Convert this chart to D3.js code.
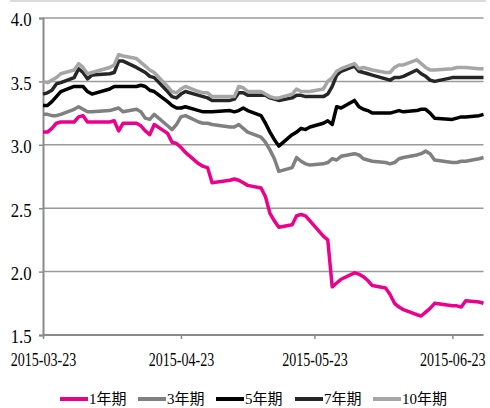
<!DOCTYPE html>
<html>
<head>
<meta charset="utf-8">
<script src="https://cdn.jsdelivr.net/npm/d3@7/dist/d3.min.js"></script>
<style>
  html, body { margin: 0; padding: 0; background: #fff; }
  svg { display: block; }
</style>
</head>
<body>
<svg id="chart" width="490" height="408"></svg>
<script>
// Trading days covered by the yield curves
const dates = [
  "2015-03-23","2015-03-24","2015-03-25","2015-03-26","2015-03-27",
  "2015-03-30","2015-03-31","2015-04-01","2015-04-02","2015-04-03",
  "2015-04-07","2015-04-08","2015-04-09","2015-04-10",
  "2015-04-13","2015-04-14","2015-04-15","2015-04-16","2015-04-17",
  "2015-04-20","2015-04-21","2015-04-22","2015-04-23","2015-04-24",
  "2015-04-27","2015-04-28","2015-04-29","2015-04-30",
  "2015-05-04","2015-05-05","2015-05-06","2015-05-07","2015-05-08",
  "2015-05-11","2015-05-12","2015-05-13","2015-05-14","2015-05-15",
  "2015-05-18","2015-05-19","2015-05-20","2015-05-21","2015-05-22",
  "2015-05-25","2015-05-26","2015-05-27","2015-05-28","2015-05-29",
  "2015-06-01","2015-06-02","2015-06-03","2015-06-04","2015-06-05",
  "2015-06-08","2015-06-09","2015-06-10","2015-06-11","2015-06-12",
  "2015-06-15","2015-06-16","2015-06-17","2015-06-18","2015-06-19",
  "2015-06-23","2015-06-24","2015-06-25","2015-06-26",
  "2015-06-29","2015-06-30"
];

// Yields (%) by tenor
const y1 = [
  3.10,3.10,3.13,3.17,3.18, 3.18,3.22,3.23,3.18,3.18, 3.18,3.19,3.11,3.17,
  3.17,3.15,3.11,3.08,3.16, 3.09,3.02,3.01,2.98,2.94, 2.85,2.83,2.82,2.70,
  2.72,2.73,2.72,2.70,2.68, 2.66,2.59,2.46,2.40,2.35, 2.37,2.44,2.45,2.44,2.40,
  2.28,2.25,1.88,1.91,1.94, 1.99,1.98,1.96,1.93,1.89, 1.87,1.82,1.75,1.72,1.70,
  1.66,1.65,1.68,1.71,1.75, 1.73,1.73,1.72,1.77, 1.76,1.75
];
const y3 = [
  3.24,3.24,3.23,3.23,3.24, 3.28,3.30,3.28,3.26,3.26, 3.27,3.28,3.29,3.26,
  3.28,3.26,3.21,3.20,3.24, 3.15,3.12,3.16,3.22,3.23, 3.18,3.17,3.17,3.16,
  3.14,3.14,3.16,3.13,3.10, 3.06,3.02,2.96,2.89,2.79, 2.82,2.90,2.87,2.85,2.84,
  2.85,2.86,2.89,2.88,2.91, 2.93,2.92,2.89,2.88,2.87, 2.86,2.85,2.86,2.89,2.90,
  2.92,2.93,2.95,2.93,2.88, 2.86,2.86,2.87,2.87, 2.89,2.90
];
const y5 = [
  3.31,3.31,3.34,3.38,3.42, 3.46,3.46,3.46,3.42,3.40, 3.44,3.46,3.46,3.46,
  3.46,3.47,3.46,3.43,3.42, 3.34,3.31,3.29,3.29,3.30, 3.27,3.26,3.26,3.26,
  3.27,3.26,3.27,3.29,3.27, 3.23,3.17,3.10,3.04,2.99, 3.08,3.10,3.13,3.12,3.14,
  3.17,3.19,3.16,3.30,3.29, 3.35,3.30,3.28,3.27,3.25, 3.25,3.25,3.26,3.27,3.26,
  3.27,3.28,3.28,3.25,3.21, 3.20,3.21,3.22,3.22, 3.23,3.24
];
const y7 = [
  3.40,3.41,3.43,3.48,3.49, 3.53,3.60,3.57,3.52,3.55, 3.56,3.57,3.66,3.66,
  3.61,3.59,3.57,3.54,3.53, 3.42,3.38,3.37,3.40,3.42, 3.39,3.38,3.37,3.35,
  3.35,3.36,3.41,3.41,3.39, 3.39,3.39,3.37,3.36,3.35, 3.37,3.39,3.39,3.38,3.38,
  3.38,3.40,3.46,3.55,3.58, 3.62,3.58,3.57,3.56,3.55, 3.52,3.51,3.53,3.53,3.54,
  3.59,3.56,3.54,3.51,3.50, 3.53,3.53,3.53,3.53, 3.53,3.53
];
const y10 = [
  3.50,3.49,3.51,3.53,3.56, 3.59,3.64,3.61,3.56,3.57, 3.61,3.63,3.71,3.70,
  3.68,3.65,3.62,3.59,3.57, 3.46,3.42,3.41,3.44,3.46, 3.42,3.41,3.41,3.38,
  3.38,3.38,3.46,3.45,3.42, 3.42,3.40,3.38,3.37,3.37, 3.40,3.44,3.42,3.42,3.42,
  3.44,3.50,3.53,3.58,3.60, 3.64,3.60,3.61,3.60,3.59, 3.57,3.57,3.61,3.63,3.63,
  3.67,3.64,3.61,3.59,3.59, 3.60,3.61,3.61,3.61, 3.60,3.60
];

const seriesNames = ["1年期", "3年期", "5年期", "7年期", "10年期"];
const seriesValues = [y1, y3, y5, y7, y10];
const seriesColors = ["#ec008c", "#808080", "#000000", "#262626", "#a6a6a6"];

const yTicks = [1.5, 2.0, 2.5, 3.0, 3.5, 4.0];
const xTickLabels = ["2015-03-23", "2015-04-23", "2015-05-23", "2015-06-23"];
const xDomain = ["2015-03-23", "2015-06-30"];

const parse = d3.timeParse("%Y-%m-%d");
const svg = d3.select("#chart");

const plot = { left: 43, right: 483.5, top: 18, bottom: 335 };

const x = d3.scaleTime()
  .domain(xDomain.map(parse))
  .range([plot.left, plot.right]);
const y = d3.scaleLinear()
  .domain([1.5, 4.0])
  .range([plot.bottom, plot.top]);

// thin rule along the top edge
svg.append("line")
  .attr("x1", 10).attr("x2", 486).attr("y1", 1).attr("y2", 1)
  .attr("stroke", "#d0d0d0").attr("stroke-width", 1.5);

// horizontal gridlines
svg.append("g")
  .selectAll("line")
  .data(yTicks.filter(t => t > 1.5))
  .join("line")
  .attr("x1", plot.left).attr("x2", plot.right)
  .attr("y1", d => y(d)).attr("y2", d => y(d))
  .attr("stroke", "#9a9a9a").attr("stroke-width", 1.5);

const serif = "'Liberation Serif', 'Times New Roman', serif";

// y axis
const yAxis = svg.append("g")
  .attr("transform", `translate(${plot.left},0)`)
  .call(d3.axisLeft(y).tickValues(yTicks).tickFormat(d3.format(".1f")).tickSize(4).tickPadding(9));
yAxis.select(".domain").attr("stroke", "#8a8a8a").attr("stroke-width", 2);
yAxis.selectAll(".tick line").attr("stroke", "#8a8a8a").attr("stroke-width", 1.5);
yAxis.selectAll(".tick text")
  .attr("font-family", serif).attr("font-size", 19).attr("fill", "#000")
  .attr("dy", "0.42em")
  .attr("transform", "scale(0.88,1)");

// x axis
const xAxis = svg.append("g")
  .attr("transform", `translate(0,${plot.bottom})`)
  .call(d3.axisBottom(x).tickValues(xTickLabels.map(parse))
    .tickFormat(d3.timeFormat("%Y-%m-%d")).tickSize(4).tickPadding(14));
xAxis.select(".domain").attr("stroke", "#8a8a8a").attr("stroke-width", 2)
  .attr("d", `M${plot.left},0H${plot.right}`);
xAxis.selectAll(".tick line").attr("stroke", "#8a8a8a").attr("stroke-width", 1.5);
xAxis.selectAll(".tick text")
  .attr("font-family", serif).attr("font-size", 19).attr("fill", "#000")
  .attr("transform", "scale(0.74,1)");

// yield lines
const line = d3.line()
  .x((d, i) => x(parse(dates[i])))
  .y(d => y(d));

svg.append("g")
  .selectAll("path")
  .data(seriesValues)
  .join("path")
  .attr("fill", "none")
  .attr("stroke", (d, i) => seriesColors[i])
  .attr("stroke-width", 3.5)
  .attr("stroke-linejoin", "round")
  .attr("d", line);

// legend
const legendX = [60, 138, 216, 295, 373];
const legend = svg.append("g")
  .selectAll("g")
  .data(seriesNames)
  .join("g")
  .attr("transform", (d, i) => `translate(${legendX[i]},399)`);
legend.append("line")
  .attr("x1", 0).attr("x2", 28).attr("y1", 0).attr("y2", 0)
  .attr("stroke", (d, i) => seriesColors[i]).attr("stroke-width", 4);
legend.append("text")
  .attr("x", 29).attr("y", 0).attr("dy", "0.36em")
  .attr("font-family", "'Liberation Serif', 'Noto Sans CJK SC', serif")
  .attr("font-size", 15)
  .attr("fill", "#000")
  .text(d => d);
</script>
</body>
</html>
